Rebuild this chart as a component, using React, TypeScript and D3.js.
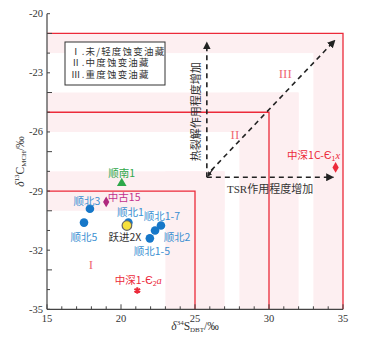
import React from "react";
import * as d3 from "d3";

const W = 365, H = 343;
const xDomain = [15, 35];
const yDomain = [-35, -20];
const xTickLabels = [15, 20, 25, 30, 35];
const yTickLabels = [-35, -32, -29, -26, -23, -20];

const names = ["顺南1", "中古15", "顺北3", "顺北5", "顺北1", "跃进2X", "顺北1-7", "顺北2", "顺北1-5", "中深1-Є2a", "中深1C-Є1x"];
const xVals = [20.05, 19.0, 17.9, 17.5, 20.5, 20.4, 22.7, 22.3, 21.95, 21.1, 34.5];
const yVals = [-28.6, -29.55, -29.9, -30.6, -30.6, -30.75, -30.75, -31.0, -31.4, -34.05, -27.8];
const kinds = ["tri", "diamond", "blue", "blue", "blue", "yellow", "blue", "blue", "blue", "star", "reddiamond"];

// region boundaries
const regionX = [25, 30, 35];
const regionY = [-29, -25, -21];
// shaded L-bands
const bandX = [[23, 27], [28, 32], [33, 35]];
const bandY = [[-30, -28], [-26, -24], [-22, -21]];
const regionNames = ["I", "II", "III"];
const regionLabelPos = [[17.97, -32.95], [27.7, -26.35], [31.1, -23.25]];

const legendLines = ["Ⅰ.未/轻度蚀变油藏", "Ⅱ.中度蚀变油藏", "Ⅲ.重度蚀变油藏"];

const arrowOrigin = [25.8, -28.3];
const arrowUpEnd = [25.8, -21.45];
const arrowRightEnd = [34.35, -28.3];
const arrowDiagStart = [26.1, -27.95];
const arrowDiagEnd = [34.45, -21.35];

const labelStyle: Record<string, { dx: number; dy: number; color: string }> = {
  "顺南1": { dx: 0, dy: -10, color: "#2ea84a" },
  "中古15": { dx: 18, dy: -5, color: "#c2308c" },
  "顺北3": { dx: -3, dy: -8, color: "#3a8fd2" },
  "顺北5": { dx: 0, dy: 14, color: "#3a8fd2" },
  "顺北1": { dx: 2, dy: -11, color: "#3a8fd2" },
  "跃进2X": { dx: -2, dy: 11, color: "#333" },
  "顺北1-7": { dx: 1, dy: -9.5, color: "#3a8fd2" },
  "顺北2": { dx: 22, dy: 7, color: "#3a8fd2" },
  "顺北1-5": { dx: 2, dy: 12.5, color: "#3a8fd2" },
};

const RED = "#ec2a3a";
const PINK = "#fdeff1";
const SERIF = "'Liberation Serif', 'DejaVu Serif', serif";
const CJK = "'Noto Sans CJK SC', sans-serif";

export default function App() {
  const x = d3.scaleLinear().domain(xDomain).range([47, 343]);
  const y = d3.scaleLinear().domain(yDomain).range([309.3, 13.7]);
  const x0 = x(xDomain[0]), y0 = y(yDomain[0]);

  const xMinor = d3.range(15, 36, 1);
  const yMinor = d3.range(-35, -19, 1);

  const tri = d3.symbol().type(d3.symbolTriangle).size(40)();
  const dia = d3.symbol().type(d3.symbolDiamond).size(34)();
  const star = d3.symbol().type(d3.symbolAsterisk).size(30)();

  const dashed = { stroke: "#222", strokeWidth: 1.6, strokeDasharray: "5,4", fill: "none" };
  const ox = x(arrowOrigin[0]), oy = y(arrowOrigin[1]);

  return (
    <svg width={W} height={H} style={{ position: "absolute", left: 0, top: 0, background: "#fff" }}>
      <defs>
        <marker id="ah" viewBox="0 0 10 10" refX="9" refY="5" markerWidth="5" markerHeight="5" orient="auto">
          <path d="M0,0 L10,5 L0,10 z" fill="#222" />
        </marker>
        <marker id="ahs" viewBox="0 0 10 10" refX="9" refY="5" markerWidth="4" markerHeight="4" orient="auto">
          <path d="M0,0 L10,5 L0,10 z" fill="#222" />
        </marker>
      </defs>
      {bandY.map((b, i) => (
        <rect key={"hy" + i} x={x0} y={y(b[1])} width={x(bandX[i][1]) - x0} height={y(b[0]) - y(b[1])} fill={PINK} />
      ))}
      {bandX.map((b, i) => (
        <rect key={"vx" + i} x={x(b[0])} y={y(bandY[i][1])} width={x(b[1]) - x(b[0])} height={y0 - y(bandY[i][1])} fill={PINK} />
      ))}
      {regionX.map((rx, i) => (
        <path key={"rb" + i} d={`M${x0},${y(regionY[i])} H${x(rx)} V${y0}`} fill="none" stroke={RED} strokeWidth={1.3} />
      ))}
      {regionNames.map((n, i) => (
        <text key={"rn" + i} x={x(regionLabelPos[i][0])} y={y(regionLabelPos[i][1])} fill="#ef6b74" fontFamily={SERIF} fontSize={13} textAnchor="middle">{n}</text>
      ))}
      <line x1={x0} x2={x(35)} y1={y0} y2={y0} stroke="#444" strokeWidth={1.2} />
      <line x1={x0} x2={x0} y1={y0} y2={y(-20)} stroke="#444" strokeWidth={1.2} />
      {xMinor.map((v) => (
        <line key={"xt" + v} x1={x(v)} x2={x(v)} y1={y0} y2={y0 - (v % 5 === 0 ? 5 : 3)} stroke="#444" strokeWidth={1} />
      ))}
      {yMinor.map((v) => (
        <line key={"yt" + v} x1={x0} x2={x0 + (v % 3 === 0 ? 5 : 3)} y1={y(v)} y2={y(v)} stroke="#444" strokeWidth={1} />
      ))}
      {xTickLabels.map((v) => (
        <text key={"xl" + v} x={x(v)} y={y0 + 13} textAnchor="middle" fontFamily={SERIF} fontSize={10.5} fill="#333">{v}</text>
      ))}
      {yTickLabels.map((v) => (
        <text key={"yl" + v} x={x0 - 4} y={y(v) + 3.5} textAnchor="end" fontFamily={SERIF} fontSize={10.5} fill="#333">{v}</text>
      ))}
      <text x={x(25)} y={330} textAnchor="middle" fontFamily={SERIF} fontSize={11.5} fill="#333">
        <tspan fontStyle="italic">δ</tspan>
        <tspan fontSize={7} dy={-5}>34</tspan>
        <tspan dy={5}>S</tspan>
        <tspan fontSize={7} dy={2}>DBT</tspan>
        <tspan dy={-2}>/‰</tspan>
      </text>
      <text transform={`translate(24,${(y0 + y(-20)) / 2}) rotate(-90)`} textAnchor="middle" fontFamily={SERIF} fontSize={11.5} fill="#333">
        <tspan fontStyle="italic">δ</tspan>
        <tspan fontSize={7} dy={-5}>13</tspan>
        <tspan dy={5}>C</tspan>
        <tspan fontSize={7} dy={2}>MCH</tspan>
        <tspan dy={-2}>/‰</tspan>
      </text>
      <rect x={65} y={42} width={100} height={43} fill="#fff" stroke="#333" strokeWidth={1} />
      {legendLines.map((t, i) => (
        <text key={"lg" + i} x={71} y={55 + i * 11.3} fontFamily={CJK} fontSize={9.5} letterSpacing={1.2} fill="#333">{t}</text>
      ))}
      <line x1={ox} y1={oy} x2={x(arrowUpEnd[0])} y2={y(arrowUpEnd[1])} {...dashed} markerEnd="url(#ah)" />
      <line x1={ox} y1={oy} x2={x(arrowRightEnd[0])} y2={y(arrowRightEnd[1])} {...dashed} markerEnd="url(#ah)" />
      <line x1={x(arrowDiagStart[0])} y1={y(arrowDiagStart[1])} x2={x(arrowDiagEnd[0])} y2={y(arrowDiagEnd[1])} {...dashed} markerEnd="url(#ah)" />
      <path d={`M${x(arrowDiagStart[0]) + 2},${y(arrowDiagStart[1]) - 2} L${ox + 1},${oy - 1}`} stroke="#222" strokeWidth={1.2} markerEnd="url(#ahs)" />
      <text transform={`translate(${ox - 7},${(oy + y(arrowUpEnd[1])) / 2 + 2}) rotate(-90)`} textAnchor="middle" fontFamily={CJK} fontSize={11} fill="#333">热裂解作用程度增加</text>
      <text x={(ox + x(arrowRightEnd[0])) / 2} y={oy + 16} textAnchor="middle" fontFamily={CJK} fontSize={11} fill="#333">
        <tspan fontFamily={SERIF}>TSR</tspan>作用程度增加
      </text>
      {names.map((n, i) => {
        const px = x(xVals[i]), py = y(yVals[i]);
        const k = kinds[i];
        if (k === "tri") return <path key={n} d={tri!} transform={`translate(${px},${py})`} fill="#2ea84a" />;
        if (k === "diamond") return <path key={n} d={dia!} transform={`translate(${px},${py})`} fill="#b0287e" />;
        if (k === "blue") return <circle key={n} cx={px} cy={py} r={4.3} fill="#1677c8" />;
        if (k === "yellow") return <circle key={n} cx={px} cy={py} r={4.8} fill="#f5e03c" stroke="#666" strokeWidth={1.2} />;
        if (k === "star") return <path key={n} d={star!} transform={`translate(${px},${py})`} fill={RED} stroke={RED} strokeWidth={2} />;
        return <path key={n} d={dia!} transform={`translate(${px},${py})`} fill={RED} />;
      })}
      {names.map((n, i) => {
        const s = labelStyle[n];
        if (!s) return null;
        return (
          <text key={"lab" + n} x={x(xVals[i]) + s.dx} y={y(yVals[i]) + s.dy + 4} textAnchor="middle" fontFamily={CJK} fontSize={10.5} fill={s.color}>{n}</text>
        );
      })}
      <text x={x(xVals[9]) + 1} y={y(yVals[9]) - 7} textAnchor="middle" fontFamily={CJK} fontSize={10.5} fill={RED}>
        中深1-Є<tspan fontSize={7} dy={2}>2</tspan><tspan dy={-2} fontStyle="italic" fontFamily={SERIF}>a</tspan>
      </text>
      <text x={x(xVals[10]) - 22} y={y(yVals[10]) - 8} textAnchor="middle" fontFamily={CJK} fontSize={10.5} fill={RED}>
        中深1C-Є<tspan fontSize={7} dy={2}>1</tspan><tspan dy={-2} fontStyle="italic" fontFamily={SERIF}>x</tspan>
      </text>
    </svg>
  );
}
